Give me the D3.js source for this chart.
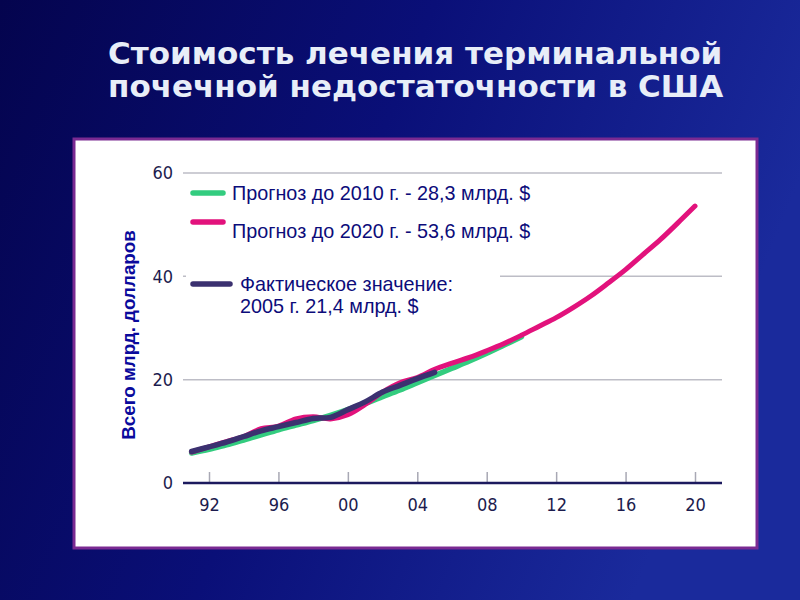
<!DOCTYPE html>
<html>
<head>
<meta charset="utf-8">
<script src="https://cdn.jsdelivr.net/npm/d3@7"></script>
<style>
  body { margin: 0; background: #06065a; }
  svg { display: block; }
</style>
</head>
<body>
<svg id="chart" width="800" height="600"></svg>
<script>
// years and series (млрд. долларов)
let years = [1991, 1992, 1993, 1994, 1995, 1996, 1997, 1998, 1999, 2000,
             2001, 2002, 2003, 2004, 2005, 2006, 2007, 2008, 2009, 2010,
             2011, 2012, 2013, 2014, 2015, 2016, 2017, 2018, 2019, 2020]

let forecast2010 = [5.8, 6.5, 7.4, 8.3, 9.3, 10.3, 11.2, 12.1, 13.1, 14.2,
                    15.4, 16.7, 18.0, 19.4, 20.8, 22.2, 23.6, 25.1, 26.7, 28.3]

let forecast2020 = [6.0, 7.0, 8.0, 9.0, 10.5, 11.0, 12.4, 12.8, 12.4, 13.2,
                    15.2, 17.6, 19.4, 20.4, 22.0, 23.2, 24.3, 25.6, 27.0, 28.6,
                    30.3, 32.0, 34.0, 36.2, 38.7, 41.3, 44.2, 47.1, 50.3, 53.6]

let actual = [6.1, 7.0, 7.9, 9.0, 10.1, 10.9, 11.7, 12.5, 12.7, 14.2,
              15.7, 17.6, 18.9, 20.2, 21.4]

let yTicks = [0, 20, 40, 60]
let xTicks = [1992, 1996, 2000, 2004, 2008, 2012, 2016, 2020]

let legendItems = [
    {label: ['Прогноз до 2010 г. - 28,3 млрд. $'], color: '#33cc7f'},
    {label: ['Прогноз до 2020 г. - 53,6 млрд. $'], color: '#e2127c'},
    {label: ['Фактическое значение:', '2005 г. 21,4 млрд. $'], color: '#3b3170'}
]

let svg = d3.select('#chart')

// background
let defs = svg.append('defs')
let grad = defs.append('linearGradient').attr('id', 'bg')
    .attr('x1', '0').attr('y1', '0').attr('x2', '1').attr('y2', '0.3')
grad.append('stop').attr('offset', '0').attr('stop-color', '#04044e')
grad.append('stop').attr('offset', '0.5').attr('stop-color', '#0a0f78')
grad.append('stop').attr('offset', '1').attr('stop-color', '#1a2a9c')
svg.append('rect').attr('width', 800).attr('height', 600).attr('fill', 'url(#bg)')

// title
let title = svg.append('text')
    .attr('font-family', 'DejaVu Sans, Verdana, sans-serif')
    .attr('font-weight', 'bold')
    .attr('font-size', 31)
    .attr('fill', '#e8eef8')
title.append('tspan').attr('x', 108).attr('y', 64).text('Стоимость лечения терминальной')
title.append('tspan').attr('x', 108).attr('y', 97).text('почечной недостаточности в США')

// white panel
svg.append('rect')
    .attr('x', 74).attr('y', 139).attr('width', 683).attr('height', 409)
    .attr('fill', '#ffffff')
    .attr('stroke', '#7a2a92').attr('stroke-width', 3)

let x = d3.scaleLinear().domain([1992, 2020]).range([209, 695])
let y = d3.scaleLinear().domain([0, 60]).range([483, 173])
let xLeft = 183, xRight = 722

// grid lines
svg.append('g').selectAll('line')
    .data(yTicks.filter(d => d > 0))
    .enter().append('line')
    .attr('x1', xLeft).attr('x2', xRight)
    .attr('y1', d => y(d)).attr('y2', d => y(d))
    .attr('stroke', '#bdbdc6').attr('stroke-width', 1.5)

// x axis
let xAxis = svg.append('g')
    .attr('transform', `translate(0,${y(0)})`)
    .call(d3.axisBottom(x).tickValues(xTicks)
        .tickFormat(d => String(d % 100).padStart(2, '0'))
        .tickSizeInner(-11).tickSizeOuter(0).tickPadding(15))
xAxis.select('.domain').remove()
xAxis.selectAll('line').attr('stroke', '#a8a8b4').attr('stroke-width', 1.5)
xAxis.selectAll('text')
    .attr('font-family', 'Liberation Sans Narrow, DejaVu Sans Condensed, sans-serif')
    .attr('font-size', 18).attr('fill', '#1c1c4e')

svg.append('line')
    .attr('x1', xLeft).attr('x2', xRight)
    .attr('y1', y(0)).attr('y2', y(0))
    .attr('stroke', '#1c1a5e').attr('stroke-width', 2.5)

// y axis
let yAxis = svg.append('g')
    .attr('transform', `translate(${xLeft},0)`)
    .call(d3.axisLeft(y).tickValues(yTicks).tickSize(0).tickPadding(10))
yAxis.select('.domain').remove()
yAxis.selectAll('text')
    .attr('font-family', 'Liberation Sans Narrow, DejaVu Sans Condensed, sans-serif')
    .attr('font-size', 18).attr('fill', '#1c1c4e')

svg.append('text')
    .attr('transform', 'translate(135,335) rotate(-90)')
    .attr('text-anchor', 'middle')
    .attr('font-family', 'Liberation Sans, Arial, sans-serif')
    .attr('font-weight', 'bold')
    .attr('font-size', 18.8)
    .attr('fill', '#0a0a9c')
    .text('Всего млрд. долларов')

// lines
let line = d3.line()
    .x(d => x(d[0]))
    .y(d => y(d[1]))
    .curve(d3.curveCatmullRom)

let series = [
    {values: forecast2010, color: legendItems[0].color, width: 5.5},
    {values: forecast2020, color: legendItems[1].color, width: 5},
    {values: actual, color: legendItems[2].color, width: 5.5}
]

svg.append('g').selectAll('path')
    .data(series)
    .enter().append('path')
    .attr('d', d => line(d.values.map((v, i) => [years[i], v])))
    .attr('fill', 'none')
    .attr('stroke', d => d.color)
    .attr('stroke-width', d => d.width)
    .attr('stroke-linecap', 'round')
    .attr('stroke-linejoin', 'round')

// legend
let legendY = [193, 222, 284]
let textY = [200, 238, 291]
let legendTextX = [232, 232, 240]

svg.append('rect')
    .attr('x', 186).attr('y', 262).attr('width', 314).attr('height', 58)
    .attr('fill', '#ffffff')

let legend = svg.append('g').selectAll('g')
    .data(legendItems)
    .enter().append('g')

legend.append('line')
    .attr('x1', 193).attr('x2', (d, i) => i === 2 ? 230 : 223)
    .attr('y1', (d, i) => legendY[i]).attr('y2', (d, i) => legendY[i])
    .attr('stroke', d => d.color)
    .attr('stroke-width', 5.5)
    .attr('stroke-linecap', 'round')

legend.append('text')
    .attr('font-family', 'Liberation Sans, Arial, sans-serif')
    .attr('font-size', 19.8)
    .attr('fill', '#0c0c7a')
    .each(function (d, i) {
        let t = d3.select(this)
        d.label.forEach(function (s, j) {
            t.append('tspan')
                .attr('x', legendTextX[i])
                .attr('y', textY[i] + j * 22)
                .text(s)
        })
    })
</script>
</body>
</html>
